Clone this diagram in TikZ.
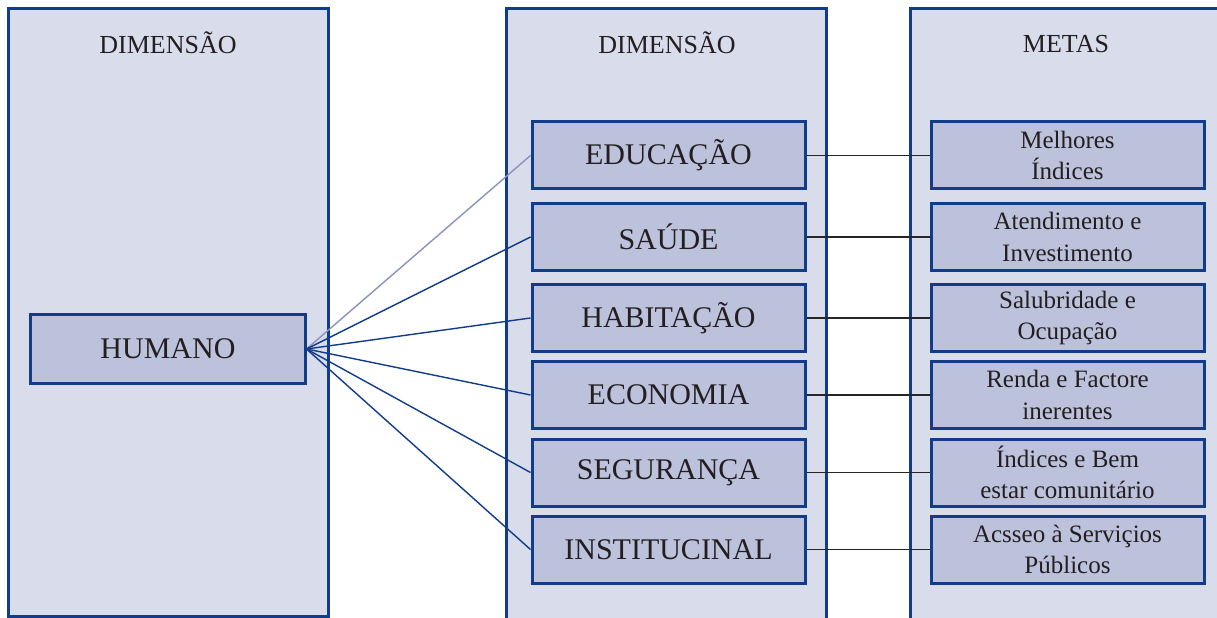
\documentclass[tikz,border=0pt]{standalone}
\usepackage{fontspec}
\setmainfont{Liberation Serif}
\definecolor{panelfill}{HTML}{D9DCEB}
\definecolor{boxfill}{HTML}{BCC1DC}
\definecolor{navy}{HTML}{103C8A}
\definecolor{lightline}{HTML}{8A93BE}
\definecolor{txt}{HTML}{231F20}
\tikzset{
  panel/.style={draw=navy, fill=panelfill, line width=3bp},
  dimbox/.style={draw=navy, fill=boxfill, line width=3bp, minimum width=273bp, minimum height=67bp,
    inner sep=0pt, text=txt, font=\fontsize{30bp}{34bp}\selectfont},
  metabox/.style={draw=navy, fill=boxfill, line width=3bp, minimum width=273bp, minimum height=67bp,
    inner sep=0pt, text=txt, align=center, font=\fontsize{25bp}{31.5bp}\selectfont},
  header/.style={anchor=base, text=txt, font=\fontsize{26bp}{30bp}\selectfont},
  link/.style={draw=navy, line width=1.4bp},
  metalink/.style={draw=black!85, line width=1.3bp}
}
\begin{document}
\begin{tikzpicture}[x=1bp, y=-1bp]
\useasboundingbox (0,0) rectangle (1217,618);
\begin{scope}
\clip (0,0) rectangle (1217,618);
% panels
\path[panel] (8,9) rectangle (328,616);
\path[panel] (506,9) rectangle (826,640);
\path[panel] (910,9) rectangle (1224,640);
\end{scope}
% headers
\node[header] (h1) at (168,54) {DIMENSÃO};
\node[header] (h2) at (667,54) {DIMENSÃO};
\node[header] (h3) at (1066,53) {METAS};
% left box
\node[dimbox, minimum width=274bp, minimum height=68bp] (hum) at (168,349) {HUMANO};
% middle boxes
\node[dimbox] (d1) at (668.5,155.5) {EDUCAÇÃO};
\node[dimbox] (d2) at (668.5,237) {SAÚDE};
\node[dimbox] (d3) at (668.5,318) {HABITAÇÃO};
\node[dimbox] (d4) at (668.5,395) {ECONOMIA};
\node[dimbox] (d5) at (668.5,472.5) {SEGURANÇA};
\node[dimbox] (d6) at (668.5,549.5) {INSTITUCINAL};
% right boxes
\node[metabox] (m1) at (1067.5,155.5) {Melhores\\Índices};
\node[metabox] (m2) at (1067.5,237) {Atendimento e\\Investimento};
\node[metabox] (m3) at (1067.5,318) {Salubridade e\\Ocupação};
\node[metabox] (m4) at (1067.5,395) {Renda e Factore\\inerentes};
\node[metabox] (m5) at (1067.5,472.5) {Índices e Bem\\estar comunitário};
\node[metabox] (m6) at (1067.5,549.5) {Acsseo à Serviçios\\Públicos};
% connectors
\draw[link, draw=lightline] (hum.east) -- (d1.west);
\draw[link] (hum.east) -- (d2.west);
\draw[link] (hum.east) -- (d3.west);
\draw[link] (hum.east) -- (d4.west);
\draw[link] (hum.east) -- (d5.west);
\draw[link] (hum.east) -- (d6.west);
\foreach \i in {1,...,6} {
  \draw[metalink] (d\i.east) -- (m\i.west);
}
\end{tikzpicture}
\end{document}
